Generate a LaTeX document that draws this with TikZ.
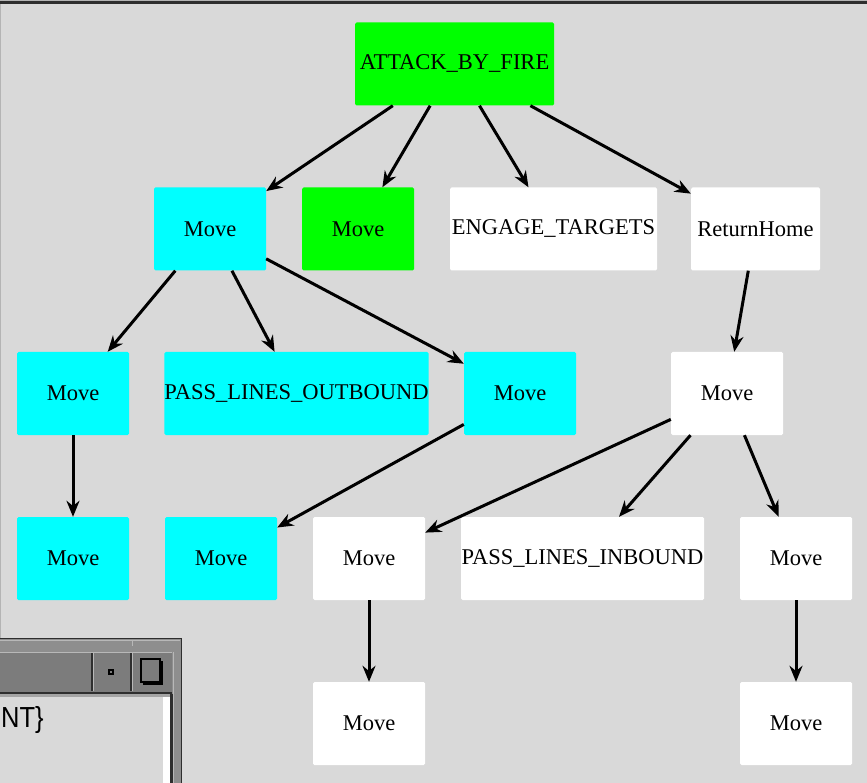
\documentclass[tikz,border=0pt]{standalone}
\usepackage{fontspec}
\setmainfont{Liberation Serif}
\newfontfamily\uisans{Liberation Sans}
\usetikzlibrary{arrows.meta}

\definecolor{canvas}{HTML}{D9D9D9}
\definecolor{aqua}{RGB}{0,255,255}
\definecolor{lime}{RGB}{0,255,0}
\definecolor{rimlight}{HTML}{B4B4B4}
\definecolor{rimdark}{HTML}{2E2E2E}
\definecolor{framegray}{HTML}{8E8E8E}
\definecolor{titlegray}{HTML}{7C7C7C}
\definecolor{bevel}{HTML}{B8B8B8}

\tikzset{
  box/.style={inner sep=0pt, rounded corners=1.5pt,
    font=\fontsize{22.5}{26}\selectfont,
    minimum width=112pt, minimum height=83pt},
  cyanbox/.style={box, fill=aqua},
  greenbox/.style={box, fill=lime},
  whitebox/.style={box, fill=white},
  link/.style={-{Stealth[length=16pt,width=13pt]}, line width=3pt, black},
}

\begin{document}
\begin{tikzpicture}[x=1pt,y=-1pt]
\useasboundingbox (0,0) rectangle (867,783);

% canvas and its rim
\fill[canvas] (0,0) rectangle (867,783);
\fill[rimlight] (0,0) rectangle (867,1.5);
\fill[rimdark] (0,1.5) rectangle (867,3.8);
\fill[rimlight] (0,3.8) rectangle (1.2,783);

% tree nodes
\node[greenbox, minimum width=199pt] (fire) at (454.5,64) {ATTACK\_BY\_FIRE};

\node[cyanbox]  (m1) at (210,229) {Move};
\node[greenbox] (m2) at (358,229) {Move};
\node[whitebox, minimum width=207pt] (eng) at (553.5,229) {ENGAGE\_TARGETS};
\node[whitebox, minimum width=129pt] (ret) at (755.5,229) {ReturnHome};

\node[cyanbox]  (m3) at (73,393.5) {Move};
\node[cyanbox, minimum width=263pt] (pout) at (296.5,393.5) {PASS\_LINES\_OUTBOUND};
\node[cyanbox]  (m4) at (520,393.5) {Move};
\node[whitebox] (m5) at (727,393.5) {Move};

\node[cyanbox]  (m6) at (73,558.5) {Move};
\node[cyanbox]  (m7) at (221,558.5) {Move};
\node[whitebox] (m8) at (369,558.5) {Move};
\node[whitebox, minimum width=243pt] (pin) at (582.5,558.5) {PASS\_LINES\_INBOUND};
\node[whitebox] (m9) at (796,558.5) {Move};

\node[whitebox] (m10) at (369,723.5) {Move};
\node[whitebox] (m11) at (796,723.5) {Move};

% connectors
\draw[link] (fire) -- (m1);
\draw[link] (fire) -- (m2);
\draw[link] (fire) -- (eng);
\draw[link] (fire) -- (ret);
\draw[link] (m1) -- (m3);
\draw[link] (m1) -- (pout);
\draw[link] (m1) -- (m4);
\draw[link] (ret) -- (m5);
\draw[link] (m3) -- (m6);
\draw[link] (m4) -- (m7);
\draw[link] (m5) -- (m8);
\draw[link] (m5) -- (pin);
\draw[link] (m5) -- (m9);
\draw[link] (m8) -- (m10);
\draw[link] (m9) -- (m11);

% overlapping window in the lower left corner
\fill[framegray] (0,638) rectangle (182,783);
\draw[rimdark, line width=1.3pt] (0,638.6) -- (181.4,638.6) -- (181.4,783);
\draw[bevel, line width=1pt] (0,640.5) -- (179.5,640.5);
\draw[bevel, line width=1pt] (132,639.5) -- (132,646);
\draw[bevel, line width=1pt] (173.5,652) -- (173.5,783);
% title bar
\fill[titlegray] (0,652) rectangle (172,692);
\draw[bevel, line width=1.2pt] (0,652.6) -- (171.5,652.6);
\draw[bevel, line width=1.5pt] (93.5,653) -- (93.5,691);
\draw[bevel, line width=1.5pt] (132.5,653) -- (132.5,691);
\draw[rimdark, line width=1.2pt] (92,653) -- (92,691);
\draw[rimdark, line width=1.2pt] (131,653) -- (131,691);
\fill[rimdark] (0,691.5) rectangle (172,694);
\node[draw=black, fill=titlegray, line width=1.2pt, inner sep=0pt,
      minimum size=4pt] (minbtn) at (111,672) {};
\fill[black] (143,661) rectangle (163,685);
\node[draw=black, fill=titlegray, line width=1.3pt, inner sep=0pt,
      minimum width=19pt, minimum height=23pt] (maxbtn) at (150.5,670.5) {};
% client area
\fill[canvas] (0,694) rectangle (170,783);
\fill[framegray!80] (0,694) rectangle (170,697);
\fill[white] (163,697) rectangle (170,783);
\fill[rimdark] (170,694) rectangle (172.5,783);
\node[anchor=west, inner sep=0pt, xscale=0.88,
      font=\uisans\fontsize{29}{30}\selectfont] (ntlabel) at (1,720) {NT\}};
\end{tikzpicture}
\end{document}
